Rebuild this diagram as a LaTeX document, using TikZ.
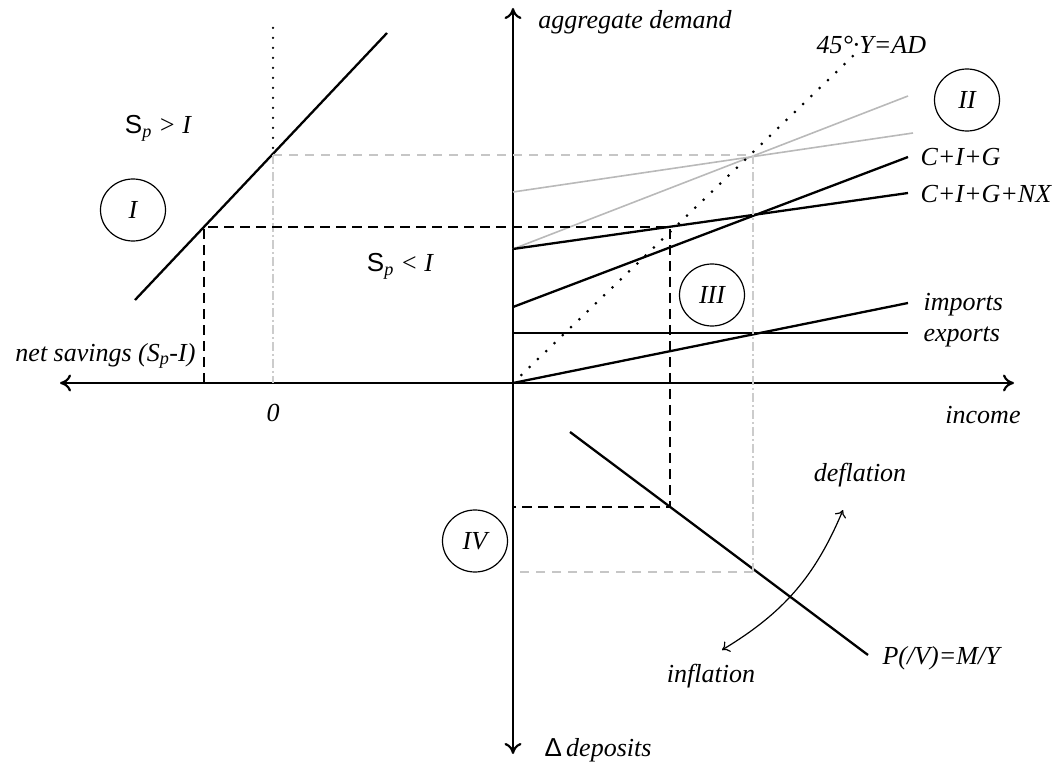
\documentclass[tikz,border=0pt]{standalone}
\usepackage{fontspec}
\setmainfont{Liberation Serif}
\setsansfont{Liberation Sans}
\usetikzlibrary{arrows.meta,shapes.geometric}

\begin{document}
\begin{tikzpicture}[x=1pt, y=-1pt,
  axis/.style={line width=2.2pt, {To[length=11pt,width=17pt]}-{To[length=11pt,width=17pt]}},
  curve/.style={line width=2.3pt},
  light/.style={gray!55, line width=1.6pt},
  guide/.style={line width=2.5pt, dash pattern=on 10pt off 6pt},
  lightguide/.style={gray!45, line width=2pt, dash pattern=on 9pt off 7pt},
  lightdrop/.style={gray!40, line width=1.4pt, dash pattern=on 9pt off 3pt on 2pt off 3pt},
  dots/.style={line width=3pt, line cap=round, dash pattern=on 0pt off 11.5pt},
  txt/.style={font=\fontsize{26}{31}\selectfont\itshape},
  quad/.style={draw, ellipse, line width=1.2pt, minimum width=65pt, minimum height=62pt, inner sep=0pt, font=\fontsize{26}{31}\selectfont\itshape}
]
\useasboundingbox (0,0) rectangle (1061,767);

% Axes
\coordinate (O) at (513,383);
\coordinate (W) at (60,383);
\coordinate (E) at (1014,383);
\coordinate (N) at (513,8);
\coordinate (S) at (513,754);
\draw[axis] (W) -- (E);
\draw[axis] (N) -- (S);

\node[txt] (ad) at (635,22) {aggregate demand};
\node[txt] (inc) at (983,415) {income};
\node[txt] (dep) at (598,750) {\textsf{\upshape Δ}\,deposits};
\node[txt, anchor=east] (ns) at (199,356) {net savings (S\textsubscript{p}-I)};
\node[txt] (zero) at (273,413) {0};

% Quadrant I: savings
\coordinate (sav1) at (135,300);
\coordinate (sav2) at (387,33);
\draw[curve] (sav1) -- (sav2);
\node[txt] (spg) at (158,128) {\textsf{\upshape S}\textsubscript{p} > I};
\node[txt] (spl) at (400,266) {\textsf{\upshape S}\textsubscript{p} < I};
\node[quad] (q1) at (133,210) {I};

% Quadrant II: demand lines
\coordinate (g1a) at (513,249);
\coordinate (g1b) at (908,96);
\coordinate (g2a) at (513,192);
\coordinate (g2b) at (913,133);
\coordinate (cig1) at (513,307);
\coordinate (cig2) at (908,157);
\coordinate (nx1) at (513,249);
\coordinate (nx2) at (908,193);
\coordinate (imp2) at (908,303);
\coordinate (exp1) at (513,333);
\coordinate (exp2) at (908,333);
\coordinate (deg) at (853,56);
\draw[light] (g1a) -- (g1b);
\draw[light] (g2a) -- (g2b);
\draw[curve] (cig1) -- (cig2);
\draw[curve] (nx1) -- (nx2);
\draw[curve] (O) -- (imp2);
\draw[curve] (exp1) -- (exp2);
\draw[dots] (O) -- (deg);

\node[txt, anchor=west] (l45) at (813,45) {45°·Y=AD};
\node[txt, anchor=west] (lcig) at (917,157) {C+I+G};
\node[txt, anchor=west] (lnx) at (917,194) {C+I+G+NX};
\node[txt, anchor=west] (limp) at (920,305) {imports};
\node[txt, anchor=west] (lexp) at (920,337) {exports};
\node[quad] (q2) at (967,100) {II};
\node[quad] (q3) at (712,295) {III};

% Quadrant IV: money
\coordinate (pa) at (570,432);
\coordinate (pb) at (868,655);
\draw[curve] (pa) -- (pb);
\node[txt, anchor=west] (lp) at (879,658) {P(/V)=M/Y};
\node[quad] (q4) at (475,541) {IV};
\coordinate (infl) at (722,650);
\coordinate (defl) at (843,510);
\draw[line width=1.2pt, {To[length=7pt,width=12pt]}-{To[length=7pt,width=12pt]}] (infl) to[bend right=18] (defl);
\node[txt] (ldef) at (860,475) {deflation};
\node[txt] (linf) at (711,676) {inflation};

% Guides through the first equilibrium
\coordinate (zt) at (273,28);
\coordinate (z0) at (273,155);
\coordinate (za) at (273,383);
\coordinate (c1) at (753,155);
\coordinate (c1p) at (753,572);
\coordinate (c1y) at (520,572);
\draw[dots, line width=2.5pt, dash pattern=on 0pt off 10pt] (zt) -- (z0);
\draw[lightdrop] (z0) -- (za);
\draw[lightguide] (z0) -- (c1);
\draw[lightdrop] (c1) -- (c1p);
\draw[lightguide] (c1p) -- (c1y);

% Guides through the second equilibrium
\coordinate (e1a) at (204,383);
\coordinate (e1) at (204,227);
\coordinate (e2) at (670,227);
\coordinate (e2p) at (670,507);
\coordinate (e2y) at (513,507);
\draw[guide] (e1a) -- (e1) -- (e2) -- (e2p) -- (e2y);

\end{tikzpicture}
\end{document}
